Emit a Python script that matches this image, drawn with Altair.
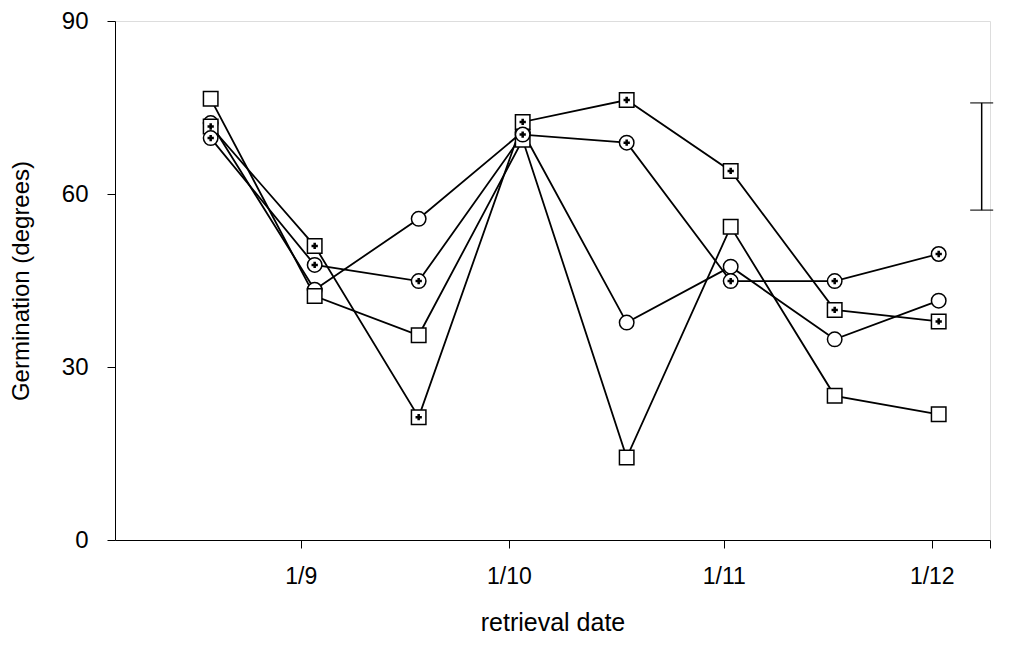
import altair as alt
import pandas as pd

# Retrieval dates as day offsets from 1 September
days = [-13, 2, 17, 32, 47, 62, 77, 92]

open_circle = [72.3, 43.4, 55.7, 70.8, 37.7, 47.4, 34.8, 41.5]
circle_plus = [69.7, 47.7, 44.9, 70.3, 68.9, 44.9, 44.9, 49.6]
open_square = [76.5, 42.3, 35.5, 69.4, 14.3, 54.3, 25.0, 21.8]
square_plus = [71.7, 51.0, 21.3, 72.5, 76.3, 64.0, 39.9, 37.9]

series_names = ["C", "S", "SP", "CP"]
series_shapes = ["circle", "square", "square", "circle"]
series_plus = ["SP", "CP"]

tick_days = [0, 30, 61, 91]
tick_labels = ["1/9", "1/10", "1/11", "1/12"]

x_domain = [-26.8, 99.4]
y_ticks = [0, 30, 60, 90]

# LSD-style error bar
err_x = [98.2]
err_low = [57.2]
err_high = [75.8]

rows = []
for name, vals in zip(series_names, [open_circle, open_square, square_plus, circle_plus]):
    for i, (d, v) in enumerate(zip(days, vals)):
        rows.append({"series": name, "day": d, "value": v, "idx": i})
df = pd.DataFrame(rows)
err_df = pd.DataFrame({"x": err_x, "lo": err_low, "hi": err_high})

label_expr = ""
for d, lab in zip(tick_days, tick_labels):
    label_expr += f"datum.value == {d} ? '{lab}' : "
label_expr += "''"

FONT = "Liberation Sans, Arial, sans-serif"

x_enc = alt.X(
    "day:Q",
    scale=alt.Scale(domain=x_domain, nice=False, zero=False),
    axis=alt.Axis(
        title="retrieval date",
        values=tick_days + [x_domain[1]],
        labelExpr=label_expr,
        grid=False,
        tickSize=8,
        labelPadding=17,
        titlePadding=22,
        labelFontSize=23,
        titleFontSize=25,
        titleFontWeight="normal",
        labelFont=FONT,
        titleFont=FONT,
        labelColor="black",
        titleColor="black",
        domainColor="black",
        tickColor="black",
        domainWidth=1,
        labelFlush=False,
    ),
)
y_enc = alt.Y(
    "value:Q",
    scale=alt.Scale(domain=[0, 90], nice=False),
    axis=alt.Axis(
        title="Germination (degrees)",
        values=y_ticks,
        grid=False,
        tickSize=8,
        labelPadding=19,
        titlePadding=28,
        labelFontSize=24,
        titleFontSize=24,
        titleFontWeight="normal",
        labelFont=FONT,
        titleFont=FONT,
        labelColor="black",
        titleColor="black",
        domainColor="black",
        tickColor="black",
        domainWidth=1,
    ),
)

base = alt.Chart(df)

lines = base.mark_line(color="black", strokeWidth=1.8).encode(
    x=x_enc, y=y_enc, detail="series:N", order="idx:Q"
)

points = base.mark_point(filled=True, fill="white", stroke="black", strokeWidth=1.5, size=210, opacity=1).encode(
    x="day:Q",
    y="value:Q",
    shape=alt.Shape("series:N", scale=alt.Scale(domain=series_names, range=series_shapes), legend=None),
)

crosses = base.transform_filter(
    alt.FieldOneOfPredicate(field="series", oneOf=series_plus)
).mark_point(shape="cross", filled=True, color="black", size=40, opacity=1).encode(
    x="day:Q", y="value:Q"
)

err_rule = alt.Chart(err_df).mark_rule(color="black", strokeWidth=1.5).encode(
    x="x:Q", y="lo:Q", y2="hi:Q"
)
cap_lo = alt.Chart(err_df).mark_tick(color="black", orient="horizontal", size=23, thickness=1.5).encode(
    x="x:Q", y="lo:Q"
)
cap_hi = alt.Chart(err_df).mark_tick(color="black", orient="horizontal", size=23, thickness=1.5).encode(
    x="x:Q", y="hi:Q"
)

chart = alt.layer(lines, points, crosses, err_rule, cap_lo, cap_hi).properties(
    width=875,
    height=519,
    autosize=alt.AutoSizeParams(type="none"),
    padding={"left": 107, "top": 13, "right": 13, "bottom": 110},
).configure_view(stroke=None).configure(background="white")

chart.save("out.html", embed_options={"renderer": "svg", "actions": False})
